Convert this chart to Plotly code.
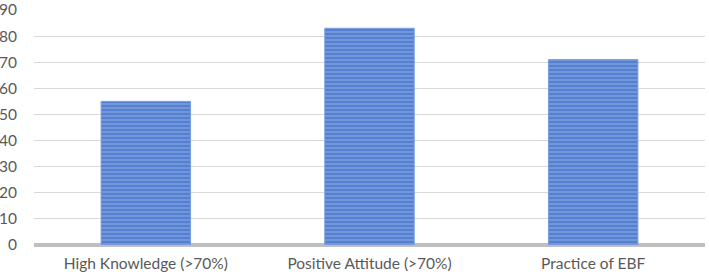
import plotly.graph_objects as go

categories = ["High Knowledge (>70%)", "Positive Attitude (>70%)", "Practice of EBF"]
values = [55, 83, 71]
y_ticks = [0, 10, 20, 30, 40, 50, 60, 70, 80, 90]

fig = go.Figure(go.Bar(
    x=categories, y=values, width=0.4,
    marker=dict(
        color="#5580D0",
        line=dict(color="#7A9BDC", width=1),
        pattern=dict(shape="-", fgcolor="#A9C0EC", bgcolor="#5580D0", size=4, solidity=0.35),
    ),
))

fig.update_layout(
    width=709, height=277,
    margin=dict(l=34, r=4, t=10, b=32),
    plot_bgcolor="white", paper_bgcolor="white",
    font=dict(family="Lato, Open Sans, sans-serif", size=15.5, color="#595959"),
    showlegend=False, bargap=0.6,
    xaxis=dict(showgrid=False, showline=False, ticks="", tickfont=dict(size=15.5),
               ticklabelstandoff=7, automargin=False),
    yaxis=dict(range=[0, 90], tickvals=y_ticks, showgrid=True, gridcolor="#D9D9D9", gridwidth=1,
               zeroline=True, zerolinecolor="#BFBFBF", zerolinewidth=4,
               ticks="", ticklabelstandoff=16, tickfont=dict(size=15.5),
               ticklabeloverflow="allow", automargin=False),
)
fig.write_html("out.html", config={"displayModeBar": False},
               post_script="document.body.style.margin='0';document.body.style.padding='0';")
